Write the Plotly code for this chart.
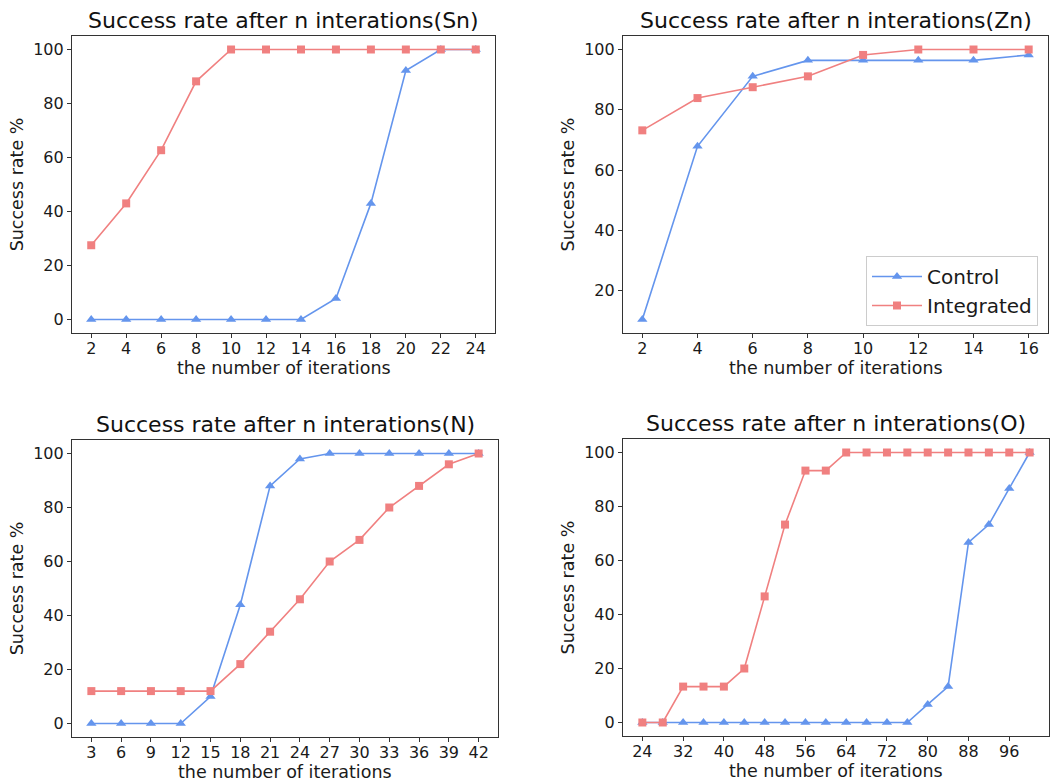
import plotly.graph_objects as go

# ---- data ----
sn_x = [2, 4, 6, 8, 10, 12, 14, 16, 18, 20, 22, 24]
sn_control = [0, 0, 0, 0, 0, 0, 0, 7.8, 43, 92.2, 100, 100]
sn_integrated = [27.5, 43, 62.7, 88.2, 100, 100, 100, 100, 100, 100, 100, 100]

zn_x = [2, 4, 6, 8, 10, 12, 14, 16]
zn_control = [10.5, 67.9, 91.1, 96.4, 96.4, 96.4, 96.4, 98.2]
zn_integrated = [73.2, 83.9, 87.5, 91.1, 98.2, 100, 100, 100]

n_x = [3, 6, 9, 12, 15, 18, 21, 24, 27, 30, 33, 36, 39, 42]
n_control = [0, 0, 0, 0, 10, 44, 88, 98, 100, 100, 100, 100, 100, 100]
n_integrated = [12, 12, 12, 12, 12, 22, 34, 46, 60, 68, 80, 88, 96, 100]

o_x = [24, 28, 32, 36, 40, 44, 48, 52, 56, 60, 64, 68, 72, 76, 80, 84, 88, 92, 96, 100]
o_control = [0, 0, 0, 0, 0, 0, 0, 0, 0, 0, 0, 0, 0, 0, 6.7, 13.3, 66.7, 73.3, 86.7, 100]
o_integrated = [0, 0, 13.3, 13.3, 13.3, 20, 46.7, 73.3, 93.3, 93.3, 100, 100, 100, 100, 100, 100, 100, 100, 100, 100]

titles = ["Success rate after n interations(Sn)", "Success rate after n interations(Zn)",
          "Success rate after n interations(N)", "Success rate after n interations(O)"]
x_label = "the number of iterations"
y_label = "Success rate %"
sn_ticks = list(range(2, 25, 2))
zn_ticks = list(range(2, 17, 2))
n_ticks = list(range(3, 43, 3))
o_ticks = list(range(24, 97, 8))

BLUE = "#6495ED"
RED = "#F08080"
FONT = "DejaVu Sans"

W, H = 1050, 782
def px(v):
    return v / W
def py(v):
    return 1 - v / H

panels = [
    dict(x=sn_x, c=sn_control, i=sn_integrated, ticks=sn_ticks, xd=(72, 495), yd=(36, 333), ytick=list(range(0, 101, 20))),
    dict(x=zn_x, c=zn_control, i=zn_integrated, ticks=zn_ticks, xd=(623, 1048), yd=(36, 333), ytick=list(range(20, 101, 20))),
    dict(x=n_x, c=n_control, i=n_integrated, ticks=n_ticks, xd=(72, 498), yd=(440, 737), ytick=list(range(0, 101, 20))),
    dict(x=o_x, c=o_control, i=o_integrated, ticks=o_ticks, xd=(623, 1049), yd=(439, 736), ytick=list(range(0, 101, 20))),
]

fig = go.Figure()
layout = dict(width=W, height=H, margin=dict(l=0, r=0, t=0, b=0),
              paper_bgcolor="white", plot_bgcolor="white",
              font=dict(family=FONT, size=16, color="#1a1a1a"),
              showlegend=True, annotations=[])

for k, p in enumerate(panels):
    n = k + 1
    xa = "x" if n == 1 else f"x{n}"
    ya = "y" if n == 1 else f"y{n}"
    fig.add_trace(go.Scatter(x=p["x"], y=p["c"], mode="lines+markers", name="Control",
                             line=dict(color=BLUE, width=1.6),
                             marker=dict(symbol="triangle-up", size=9, color=BLUE),
                             xaxis=xa, yaxis=ya, showlegend=(n == 2)))
    fig.add_trace(go.Scatter(x=p["x"], y=p["i"], mode="lines+markers", name="Integrated",
                             line=dict(color=RED, width=1.6),
                             marker=dict(symbol="square", size=8, color=RED),
                             xaxis=xa, yaxis=ya, showlegend=(n == 2)))
    xmin, xmax = min(p["x"]), max(p["x"])
    ymin = min(min(p["c"]), min(p["i"]))
    ymax = max(max(p["c"]), max(p["i"]))
    xr = xmax - xmin
    yr = ymax - ymin
    axis_common = dict(showgrid=False, zeroline=False, showline=True, mirror=True,
                       linecolor="#333333", linewidth=1.2, ticks="outside", ticklen=4,
                       tickcolor="#333333", tickfont=dict(size=16, family=FONT))
    layout["xaxis" if n == 1 else f"xaxis{n}"] = dict(
        axis_common, domain=[px(p["xd"][0]), px(p["xd"][1])],
        range=[xmin - 0.05 * xr, xmax + 0.05 * xr],
        tickmode="array", tickvals=p["ticks"], anchor=ya, ticklabelstandoff=-3)
    layout["yaxis" if n == 1 else f"yaxis{n}"] = dict(
        axis_common, domain=[py(p["yd"][1]), py(p["yd"][0])],
        range=[ymin - 0.05 * yr, ymax + 0.05 * yr],
        tickmode="array", tickvals=p["ytick"], anchor=xa,
        title=dict(text=y_label, font=dict(size=17.5, family=FONT), standoff=5))
    cx = (px(p["xd"][0]) + px(p["xd"][1])) / 2
    layout["annotations"].append(dict(
        text=titles[k], xref="paper", yref="paper",
        x=cx, y=py(p["yd"][0] - 1),
        xanchor="center", yanchor="bottom", showarrow=False,
        font=dict(size=22, family=FONT, color="#111111")))
    layout["annotations"].append(dict(
        text=x_label, xref="paper", yref="paper",
        x=cx, y=py(p["yd"][1] + 35),
        xanchor="center", yanchor="middle", showarrow=False,
        font=dict(size=17.5, family=FONT, color="#1a1a1a")))

layout["legend"] = dict(x=px(866), y=py(256), xanchor="left", yanchor="top",
                        bgcolor="white", bordercolor="#cccccc", borderwidth=1,
                        font=dict(size=20, family=FONT), itemwidth=50)
fig.update_layout(**layout)
fig.write_html("out.html", config={"displayModeBar": False},
               post_script="document.body.style.margin='0';document.body.style.padding='0';")
